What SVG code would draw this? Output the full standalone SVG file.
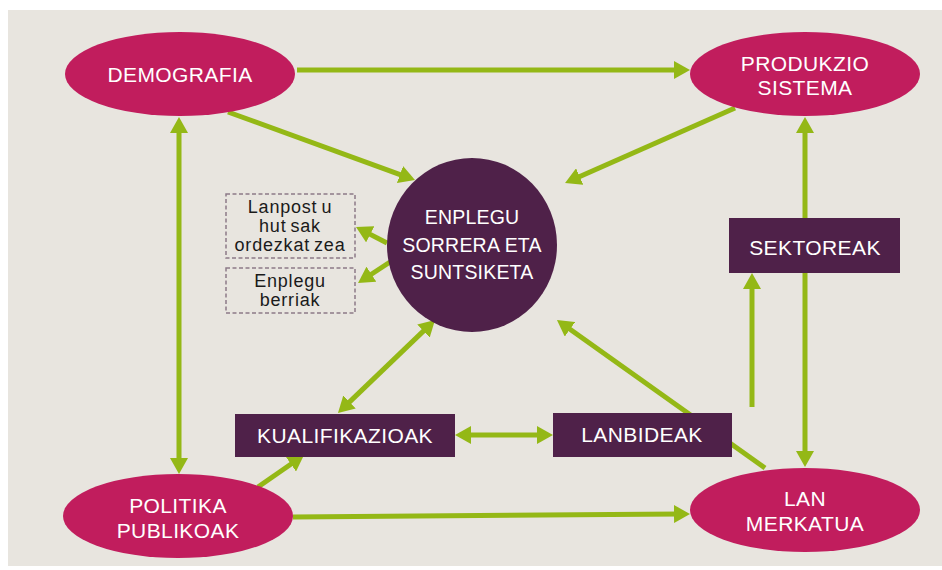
<svg xmlns="http://www.w3.org/2000/svg" width="942" height="570" viewBox="0 0 942 570">
<style>
.bg{fill:#E8E5DF}
.pink{fill:#C11D5D}
.purple{fill:#4F2149}
.dash{fill:none;stroke:#8C7A88;stroke-width:1.5;stroke-dasharray:4 2.5}
.lbl{font-family:"Liberation Sans",Arial,sans-serif;font-size:21px;fill:#FFFFFF;text-anchor:middle;letter-spacing:0.4px}
.big{font-size:19.5px;letter-spacing:0.2px}
.small{font-family:"Liberation Sans",Arial,sans-serif;font-size:18px;fill:#1A1A1A;text-anchor:middle;letter-spacing:0.8px}
.con{stroke:#94B816;stroke-width:5;fill:none}
.one{marker-end:url(#ah)}
.two{marker-end:url(#ah);marker-start:url(#ah)}
</style>
<defs>
<marker id="ah" markerUnits="userSpaceOnUse" markerWidth="16" markerHeight="18" refX="6" refY="9" orient="auto-start-reverse" viewBox="0 0 16 18">
<path d="M0,0 L16,9 L0,18 z" fill="#94B816"/>
</marker>
</defs>
<rect x="0" y="0" width="942" height="570" fill="#FFFFFF"/>
<rect class="bg" x="8" y="10" width="934" height="556"/>
<g id="connectors">
<line class="con one" x1="297" y1="70" x2="680" y2="70"/>
<line class="con one" x1="228" y1="112" x2="405.6" y2="176.6"/>
<line class="con one" x1="735" y1="108" x2="574.2" y2="179"/>
<line class="con two" x1="179" y1="127" x2="179" y2="464"/>
<line class="con two" x1="805" y1="127" x2="805" y2="457"/>
<line class="con one" x1="752" y1="407" x2="752" y2="283"/>
<line class="con one" x1="765" y1="468" x2="565.1" y2="325.8"/>
<line class="con two" x1="465" y1="435" x2="543" y2="435"/>
<line class="con two" x1="427.8" y1="326.9" x2="345.2" y2="406.1"/>
<line class="con one" x1="258" y1="487" x2="295.8" y2="460.7"/>
<line class="con one" x1="293" y1="517" x2="680" y2="514"/>
<line class="con one" x1="387" y1="243" x2="364.9" y2="231.6"/>
<line class="con one" x1="390" y1="262" x2="366.4" y2="277.5"/>
</g>
<g id="demografia">
<ellipse class="pink" cx="180" cy="74" rx="115" ry="42"/>
<text class="lbl" x="180" y="82">DEMOGRAFIA</text>
</g>
<g id="produkzio">
<ellipse class="pink" cx="805" cy="74" rx="115" ry="42"/>
<text class="lbl" x="805" y="71">PRODUKZIO</text>
<text class="lbl" x="805" y="95">SISTEMA</text>
</g>
<g id="politika">
<ellipse class="pink" cx="178" cy="516" rx="115" ry="42"/>
<text class="lbl" x="178" y="513">POLITIKA</text>
<text class="lbl" x="178" y="538">PUBLIKOAK</text>
</g>
<g id="lanmerkatua">
<ellipse class="pink" cx="805" cy="510" rx="115" ry="42"/>
<text class="lbl" x="805" y="506">LAN</text>
<text class="lbl" x="805" y="531">MERKATUA</text>
</g>
<g id="enplegu">
<ellipse class="purple" cx="472" cy="245" rx="85" ry="87"/>
<text class="lbl big" x="472" y="224">ENPLEGU</text>
<text class="lbl big" x="472" y="252">SORRERA ETA</text>
<text class="lbl big" x="472" y="279">SUNTSIKETA</text>
</g>
<g id="lanpostu">
<rect class="dash" x="226" y="194" width="129" height="64"/>
<text class="small" x="290" y="213">Lanpost<tspan dx="4">u</tspan></text>
<text class="small" x="290" y="232">hut<tspan dx="4">sak</tspan></text>
<text class="small" x="290" y="251">ordezkat<tspan dx="4">zea</tspan></text>
</g>
<g id="enplegu-berriak">
<rect class="dash" x="226" y="268" width="129" height="45"/>
<text class="small" x="290" y="287">Enplegu</text>
<text class="small" x="290" y="306">berriak</text>
</g>
<g id="sektoreak">
<rect class="purple" x="729" y="218" width="171" height="55"/>
<text class="lbl" x="815" y="255">SEKTOREAK</text>
</g>
<g id="kualifikazioak">
<rect class="purple" x="235" y="414" width="220" height="43"/>
<text class="lbl" x="345" y="443">KUALIFIKAZIOAK</text>
</g>
<g id="lanbideak">
<rect class="purple" x="553" y="413" width="179" height="44"/>
<text class="lbl" x="642" y="442">LANBIDEAK</text>
</g>
</svg>
